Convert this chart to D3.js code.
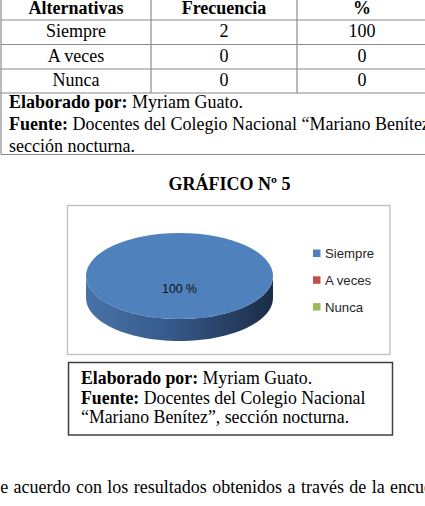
<!DOCTYPE html>
<html>
<head>
<meta charset="utf-8">
<script src="https://cdn.jsdelivr.net/npm/d3@7"></script>
<style>
  body { margin: 0; background: #fff; }
  svg { display: block; }
  .serif { font-family: "Liberation Serif", "Times New Roman", serif; }
  .sans { font-family: "Liberation Sans", Arial, sans-serif; }
</style>
</head>
<body>
<svg id="page"></svg>
<script>
// datos
const categorias = ["Siempre", "A veces", "Nunca"];
const frecuencia = [2, 0, 0];
const porcentaje = [100, 0, 0];
const encabezados = ["Alternativas", "Frecuencia", "%"];
const colores = ["#4F81BD", "#C0504D", "#9BBB59"];

const width = 425, height = 506;
const svg = d3.select("#page").attr("width", width).attr("height", height);

// --- TABLA ---
const colX = [1, 151, 297, 427];
const rowY = [-4.5, 20, 44.5, 69, 93];
const fs = 18;
const tabla = svg.append("g").attr("class", "serif");
const gris = "#8a8a8a";

// lineas horizontales
rowY.concat([154.5]).forEach(y => {
  tabla.append("line").attr("x1", colX[0]).attr("x2", colX[3])
    .attr("y1", y).attr("y2", y).attr("stroke", gris).attr("stroke-width", 1.2);
});
// lineas verticales
colX.forEach((x, i) => {
  const y2 = (i === 0 || i === 3) ? 154.5 : rowY[4];
  tabla.append("line").attr("x1", x).attr("x2", x)
    .attr("y1", rowY[0]).attr("y2", y2).attr("stroke", gris).attr("stroke-width", 1.2);
});

const centro = i => (colX[i] + colX[i + 1]) / 2;
encabezados.forEach((h, i) => {
  tabla.append("text").attr("x", centro(i)).attr("y", 13.5)
    .attr("text-anchor", "middle").attr("font-size", fs).attr("font-weight", "bold")
    .text(h);
});
categorias.forEach((c, r) => {
  const y = rowY[r + 1] + 17;
  [c, frecuencia[r], porcentaje[r]].forEach((v, i) => {
    tabla.append("text").attr("x", centro(i)).attr("y", y)
      .attr("text-anchor", "middle").attr("font-size", fs).text(v);
  });
});

function nota(g, x, y, lineas, paso, size) {
  lineas.forEach((l, k) => {
    const t = g.append("text").attr("x", x).attr("y", y + k * paso).attr("font-size", size);
    if (l[0]) t.append("tspan").attr("font-weight", "bold").text(l[0] + " ");
    t.append("tspan").text(l[1]);
  });
}
nota(tabla, 9, 107.5, [
  ["Elaborado por:", "Myriam Guato."],
  ["Fuente:", "Docentes del Colegio Nacional \u201cMariano Benítez\u201d,"],
  [null, "sección nocturna."]
], 22.2, fs);

// --- TITULO ---
svg.append("text").attr("class", "serif")
  .attr("x", 229.5).attr("y", 190)
  .attr("text-anchor", "middle").attr("font-size", 18).attr("font-weight", "bold")
  .text("GRÁFICO Nº 5");

// --- GRAFICO ---
svg.append("rect").attr("x", 67.5).attr("y", 205.5).attr("width", 322.5).attr("height", 149)
  .attr("fill", "#fff").attr("stroke", "#bfbfbf").attr("stroke-width", 1.3);

const cx = 179.5, cy = 276, rx = 93.5, ry = 43, prof = 22;
const pie = d3.pie().sort(null);
const arcos = pie(frecuencia);

const defs = svg.append("defs");
const grad = defs.append("linearGradient").attr("id", "lado")
  .attr("x1", "0%").attr("x2", "100%").attr("y1", "0%").attr("y2", "0%");
grad.append("stop").attr("offset", "0%").attr("stop-color", "#4873a8");
grad.append("stop").attr("offset", "45%").attr("stop-color", "#36598a");
grad.append("stop").attr("offset", "100%").attr("stop-color", "#1b2d46");

function punto(a, dy) {
  return [cx + rx * Math.sin(a), cy - ry * Math.cos(a) + dy];
}

// lado visible (mitad frontal)
arcos.forEach((d, i) => {
  if (d.value === 0) return;
  const a0 = Math.max(d.startAngle, Math.PI / 2);
  const a1 = Math.min(d.endAngle, 3 * Math.PI / 2);
  if (a1 <= a0) return;
  const n = 60;
  const top = d3.range(n + 1).map(k => punto(a0 + (a1 - a0) * k / n, 0));
  const bot = d3.range(n + 1).map(k => punto(a1 - (a1 - a0) * k / n, prof));
  svg.append("path")
    .attr("d", d3.line()(top.concat(bot)) + "Z")
    .attr("fill", i === 0 ? "url(#lado)" : d3.color(colores[i]).darker(1));
});

// cara superior
const arc = d3.arc().innerRadius(0).outerRadius(rx);
const cara = svg.append("g").attr("transform", `translate(${cx},${cy}) scale(1,${ry / rx})`);
cara.selectAll("path").data(arcos.filter(d => d.value > 0)).join("path")
  .attr("d", arc)
  .attr("fill", d => colores[d.index]);

// etiquetas
const arcEtiq = d3.arc().innerRadius(rx * 0.3).outerRadius(rx * 0.3);
arcos.filter(d => d.value > 0).forEach(d => {
  const [x, y] = arcEtiq.centroid(d);
  svg.append("text").attr("class", "sans")
    .attr("x", cx + x).attr("y", cy + y * ry / rx + 4.5)
    .attr("text-anchor", "middle").attr("font-size", 12.3).attr("fill", "#111")
    .text(porcentaje[d.index] + " %");
});

// leyenda
const ley = svg.append("g").attr("class", "sans");
categorias.forEach((c, i) => {
  const y = 258 + i * 26.8;
  ley.append("rect").attr("x", 313).attr("y", y - 8.5).attr("width", 7.5).attr("height", 7.5)
    .attr("fill", colores[i]);
  ley.append("text").attr("x", 325).attr("y", y).attr("font-size", 13.2).attr("fill", "#262626")
    .text(c);
});

// --- NOTA DEL GRAFICO ---
const nota2 = svg.append("g").attr("class", "serif");
nota2.append("rect").attr("x", 68.5).attr("y", 362.5).attr("width", 324).attr("height", 72.5)
  .attr("fill", "none").attr("stroke", "#404040").attr("stroke-width", 1.5);
nota(nota2, 81, 384, [
  ["Elaborado por:", "Myriam Guato."],
  ["Fuente:", "Docentes del Colegio Nacional"],
  [null, "\u201cMariano Benítez\u201d, sección nocturna."]
], 19.5, 17.8);

// texto inferior (justificado)
svg.append("text").attr("class", "serif")
  .attr("x", -12.8).attr("y", 493).attr("font-size", fs).attr("word-spacing", 0.9)
  .text("De acuerdo con los resultados obtenidos a través de la encuesta aplicada");
</script>
</body>
</html>
